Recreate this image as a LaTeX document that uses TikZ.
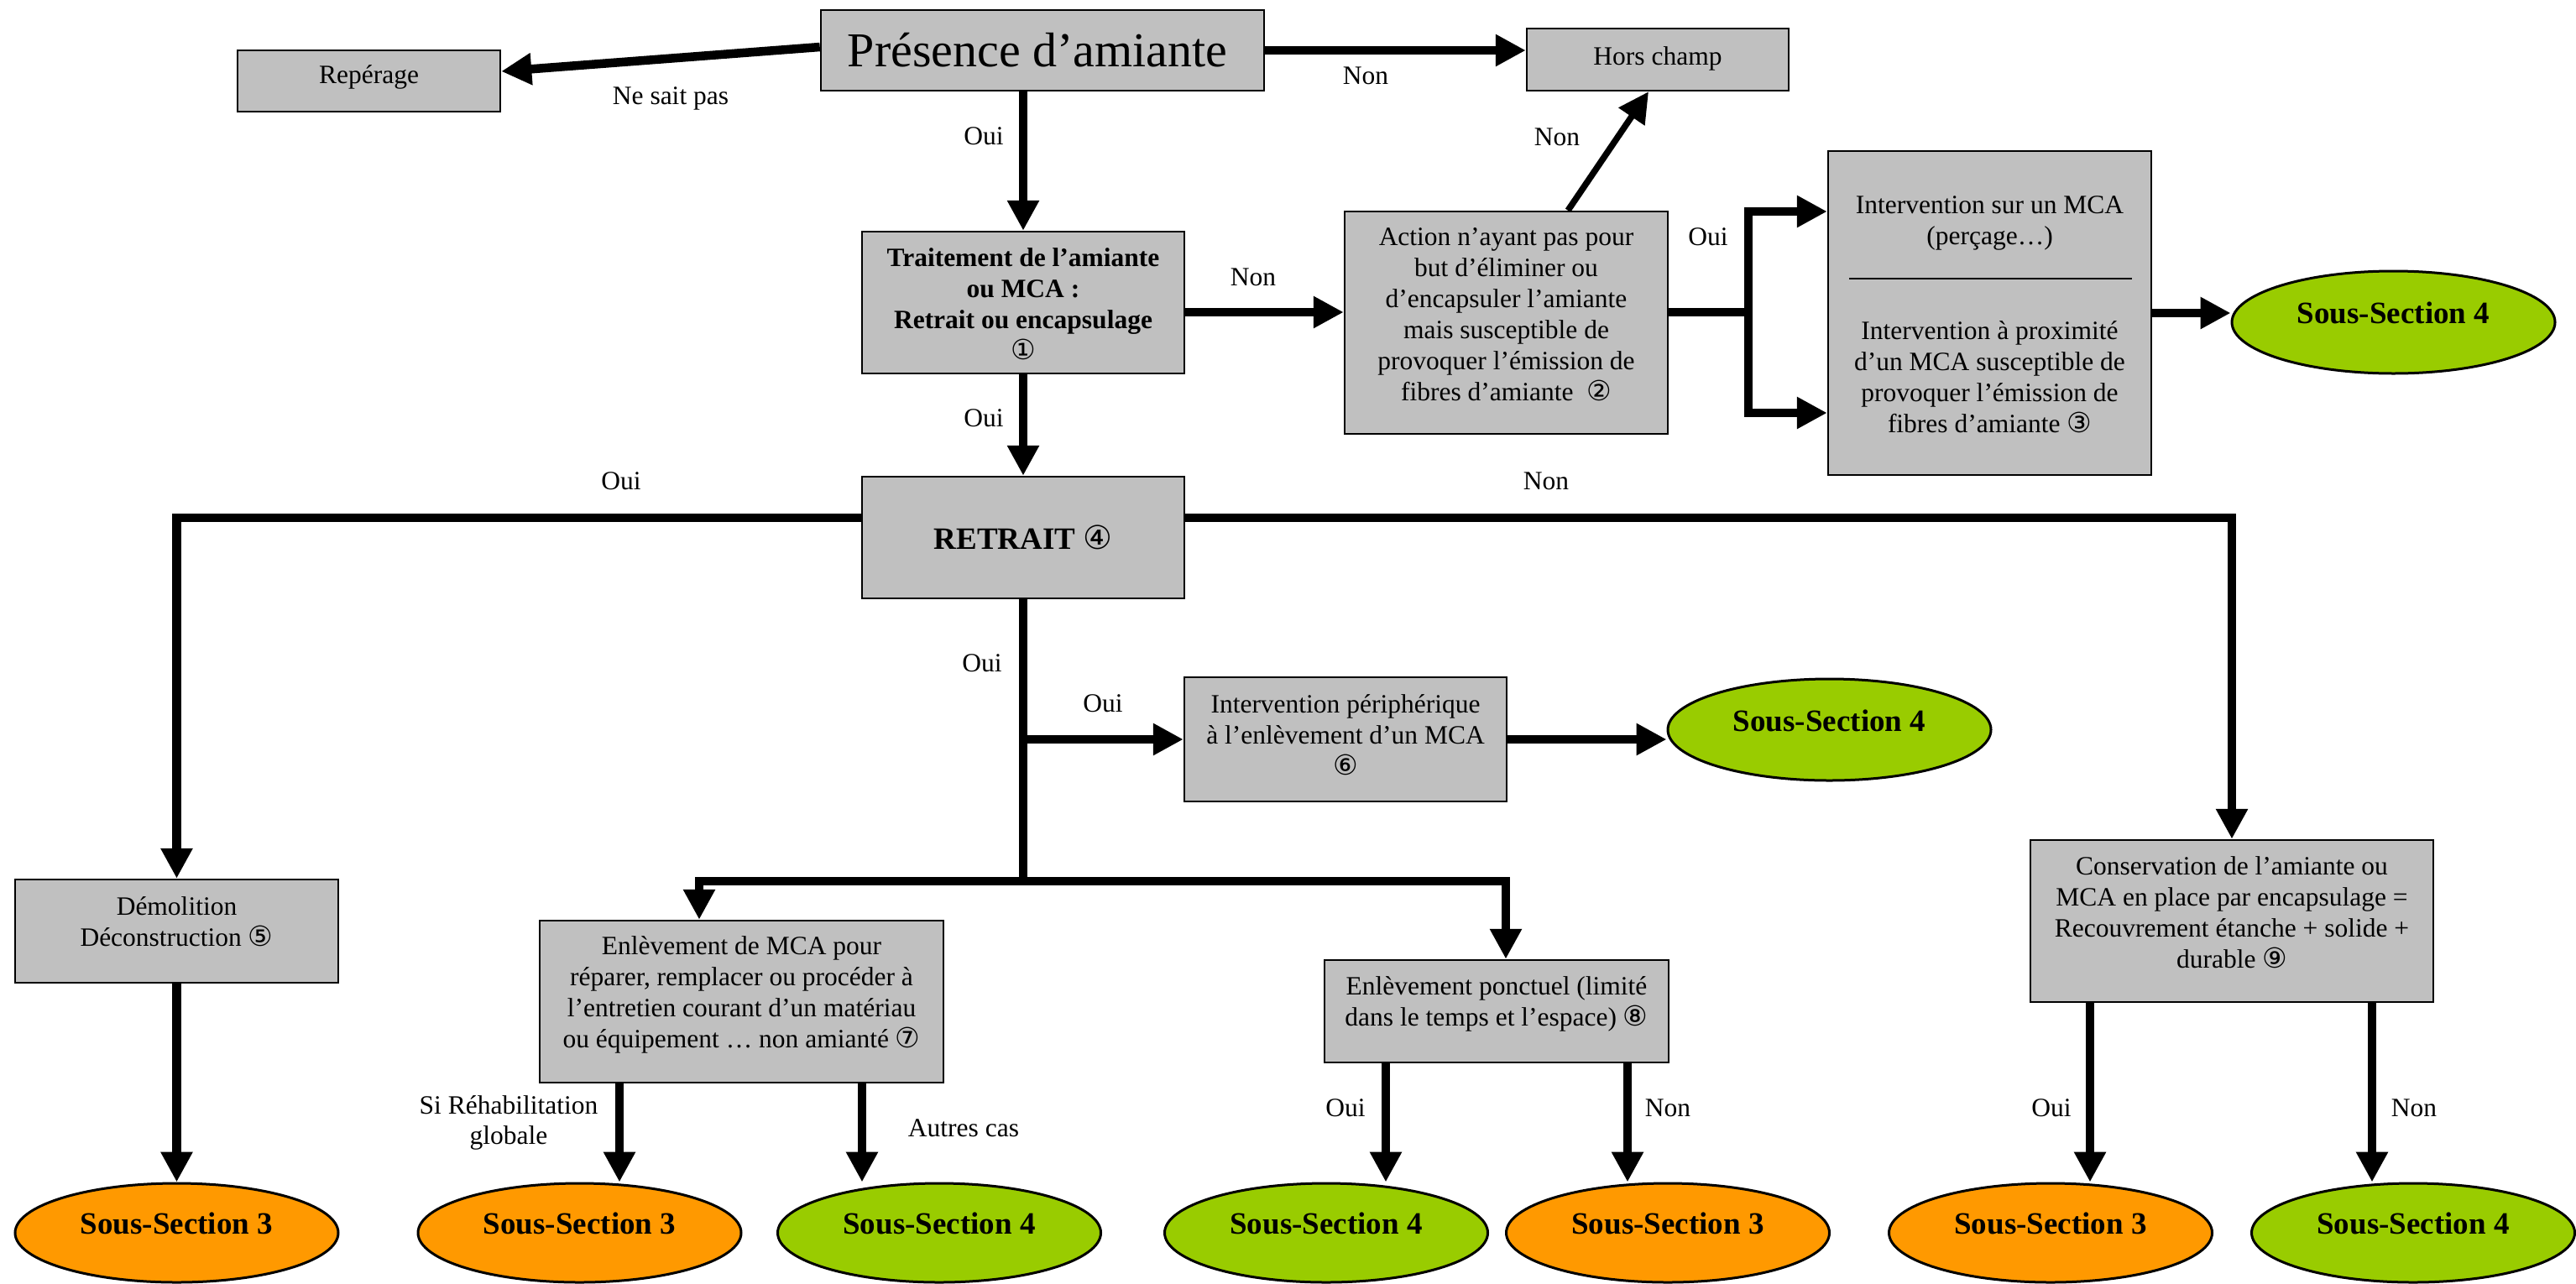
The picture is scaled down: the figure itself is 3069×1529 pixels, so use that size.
\documentclass[tikz,border=0pt]{standalone}
\usepackage{fontspec}
\setmainfont{Liberation Serif}
\newfontfamily\cfont[Scale=1.05]{DejaVu Sans}
\usetikzlibrary{arrows.meta,shapes.geometric}
\definecolor{boxgray}{HTML}{C0C0C0}
\definecolor{ssgreen}{HTML}{99CC00}
\definecolor{ssorange}{HTML}{FF9900}
\newcommand{\cn}[1]{{\cfont\mdseries #1}}
\begin{document}
\begin{tikzpicture}[x=1pt,y=-1pt,
  box/.style={draw=black,line width=2.5pt,fill=boxgray,inner sep=0pt},
  txt/.style={align=center,inner sep=0pt,font=\fontsize{31.5}{37}\selectfont},
  btxt/.style={align=center,inner sep=0pt,font=\fontsize{31.5}{37}\selectfont\bfseries},
  lbl/.style={align=center,inner sep=0pt,font=\fontsize{31.5}{36}\selectfont},
  ss/.style={ellipse,draw=black,line width=3pt,inner sep=0pt,minimum width=385pt,minimum height=118pt,font=\fontsize{37}{40}\selectfont\bfseries,text depth=22pt},
  arr/.style={line width=10.5pt,line join=miter,-{Triangle[length=36pt,width=36pt]}},
  arrboth/.style={line width=10.5pt,line join=miter,{Triangle[length=36pt,width=36pt]}-{Triangle[length=36pt,width=36pt]}},
  ln/.style={line width=10.5pt,line join=miter}]
\fill[white] (0,0) rectangle (3069,1529);
\useasboundingbox (0,0) rectangle (3069,1529);

% ---------- boxes ----------
\node[box,minimum width=528pt,minimum height=96pt] (pres) at (1242,60) {};
\node[inner sep=0pt,font=\fontsize{58}{60}\selectfont] (presT) at (1236,60) {Présence d’amiante};

\node[box,minimum width=313pt,minimum height=73pt] (rep) at (439.5,96.5) {};
\node[txt] (repT) at (439.5,92) {Repérage};

\node[box,minimum width=312pt,minimum height=74pt] (hors) at (1975,71) {};
\node[txt] (horsT) at (1975,70) {Hors champ};

\node[box,minimum width=384pt,minimum height=169pt] (trait) at (1219,360.5) {};
\node[btxt] (traitT) at (1219,362) {Traitement de l’amiante\\ou MCA :\\Retrait ou encapsulage\\\cn{①}};

\node[box,minimum width=385pt,minimum height=265pt] (action) at (1794.5,384.5) {};
\node[txt] (actionT) at (1794.5,375) {Action n’ayant pas pour\\but d’éliminer ou\\d’encapsuler l’amiante\\mais susceptible de\\provoquer l’émission de\\fibres d’amiante~~\cn{②}};

\node[box,minimum width=385pt,minimum height=386pt] (inter) at (2370.5,373) {};
\node[txt] (interT1) at (2370.5,266) {Intervention sur un MCA\\(perçage…)};
\draw[line width=2pt] ([shift={(-167.5,-41)}]inter.center) -- ([shift={(169.5,-41)}]inter.center);
\node[txt] (interT2) at (2370.5,449) {Intervention à proximité\\d’un MCA susceptible de\\provoquer l’émission de\\fibres d’amiante \cn{③}};

\node[box,minimum width=384pt,minimum height=145pt] (retrait) at (1219,640.5) {};
\node[btxt,font=\fontsize{37}{40}\selectfont\bfseries] (retraitT) at (1219,640) {RETRAIT \cn{④}};

\node[box,minimum width=384pt,minimum height=148pt] (periph) at (1603,881) {};
\node[txt] (periphT) at (1603,876) {Intervention périphérique\\à l’enlèvement d’un MCA\\\cn{⑥}};

\node[box,minimum width=385pt,minimum height=123pt] (demol) at (210.5,1109.5) {};
\node[txt] (demolT) at (210.5,1098.5) {Démolition\\Déconstruction \cn{⑤}};

\node[box,minimum width=481pt,minimum height=193pt] (enl) at (883.5,1193.5) {};
\node[txt] (enlT) at (883.5,1185) {Enlèvement de MCA pour\\réparer, remplacer ou procéder à\\l’entretien courant d’un matériau\\ou équipement … non amianté \cn{⑦}};

\node[box,minimum width=410pt,minimum height=122pt] (ponct) at (1783,1205) {};
\node[txt] (ponctT) at (1783,1196) {Enlèvement ponctuel (limité\\dans le temps et l’espace) \cn{⑧}};

\node[box,minimum width=480pt,minimum height=193pt] (conserv) at (2659,1097.5) {};
\node[txt] (conservT) at (2659,1087) {Conservation de l’amiante ou\\MCA en place par encapsulage =\\Recouvrement étanche + solide +\\durable \cn{⑨}};

% ---------- ellipses ----------
\node[ss,fill=ssgreen,minimum height=122pt] (e1) at (2851.5,384) {Sous-Section 4};
\node[ss,fill=ssgreen,minimum height=121pt] (e2) at (2179.5,869.5) {Sous-Section 4};
\node[ss,fill=ssorange] (b1) at (210.5,1469) {Sous-Section 3};
\node[ss,fill=ssorange] (b2) at (690.5,1469) {Sous-Section 3};
\node[ss,fill=ssgreen] (b3) at (1119,1469) {Sous-Section 4};
\node[ss,fill=ssgreen] (b4) at (1580,1469) {Sous-Section 4};
\node[ss,fill=ssorange] (b5) at (1987,1469) {Sous-Section 3};
\node[ss,fill=ssorange] (b6) at (2443,1469) {Sous-Section 3};
\node[ss,fill=ssgreen] (b7) at (2875,1469) {Sous-Section 4};

% ---------- connectors ----------
\draw[arr] ([yshift=4pt]pres.west) -- ([yshift=11.5pt]rep.east);
\draw[arr] (pres.east) -- (pres.east -| hors.west);
\draw[arr] (trait.north |- pres.south) -- (trait.north);
\draw[arr] ([yshift=-11.5pt]trait.east) -- ([yshift=-11.5pt]trait.east -| action.west);
\draw[arr] (trait.south) -- (retrait.north);
\draw[arr,line width=7.5pt] ([xshift=73.5pt]action.north) -- ([xshift=-11pt]hors.south);

\coordinate (brk) at (2083,372);
\draw[ln] ([yshift=12.5pt]action.east) -- (brk);
\draw[arrboth] ([yshift=121pt]inter.west) -| (brk) |- ([yshift=-119pt]inter.west);
\draw[arr] (inter.east) -- (inter.east -| e1.west);

\draw[arr] ([yshift=23.5pt]retrait.west) -| (demol.north);
\draw[arr] ([yshift=23.5pt]retrait.east) -| (conserv.north);

\coordinate (bar) at (1219,1050);
\draw[ln] (retrait.south) -- (bar);
\draw[arr] (retrait.south |- periph.west) -- (periph.west);
\draw[arr] (periph.east) -- (periph.east -| e2.west);
\draw[arrboth] ([xshift=-50.5pt]enl.north) |- (bar) -| ([xshift=11pt]ponct.north);

\draw[arr] (demol.south) -- (b1.north);
\draw[arr] ([xshift=-145.5pt]enl.south) -- ([xshift=-145.5pt]enl.south |- b2.north);
\draw[arr] ([xshift=143.5pt]enl.south) -- ([xshift=143.5pt]enl.south |- b3.north);
\draw[arr] ([xshift=-132pt]ponct.south) -- ([xshift=-132pt]ponct.south |- b4.north);
\draw[arr] ([xshift=156pt]ponct.south) -- ([xshift=156pt]ponct.south |- b5.north);
\draw[arr] ([xshift=-169pt]conserv.south) -- ([xshift=-169pt]conserv.south |- b6.north);
\draw[arr] ([xshift=167pt]conserv.south) -- ([xshift=167pt]conserv.south |- b7.north);

% ---------- labels ----------
\node[lbl] (lNSP) at (799,117) {Ne sait pas};
\node[lbl] (lN1) at (1627,90) {Non};
\node[lbl] (lO1) at (1172,162) {Oui};
\node[lbl] (lN2) at (1493,330) {Non};
\node[lbl] (lN3) at (1855,163) {Non};
\node[lbl] (lO2) at (2035,282) {Oui};
\node[lbl] (lO3) at (1172,498) {Oui};
\node[lbl] (lO4) at (740,573) {Oui};
\node[lbl] (lN4) at (1842,573) {Non};
\node[lbl] (lO5) at (1170,790) {Oui};
\node[lbl] (lO6) at (1314,838) {Oui};
\node[lbl] (lRH) at (606,1338) {Si Réhabilitation\\globale};
\node[lbl] (lAC) at (1148,1344) {Autres cas};
\node[lbl] (lO7) at (1603,1320) {Oui};
\node[lbl] (lN5) at (1987,1320) {Non};
\node[lbl] (lO8) at (2444,1320) {Oui};
\node[lbl] (lN6) at (2876,1320) {Non};
\end{tikzpicture}
\end{document}
